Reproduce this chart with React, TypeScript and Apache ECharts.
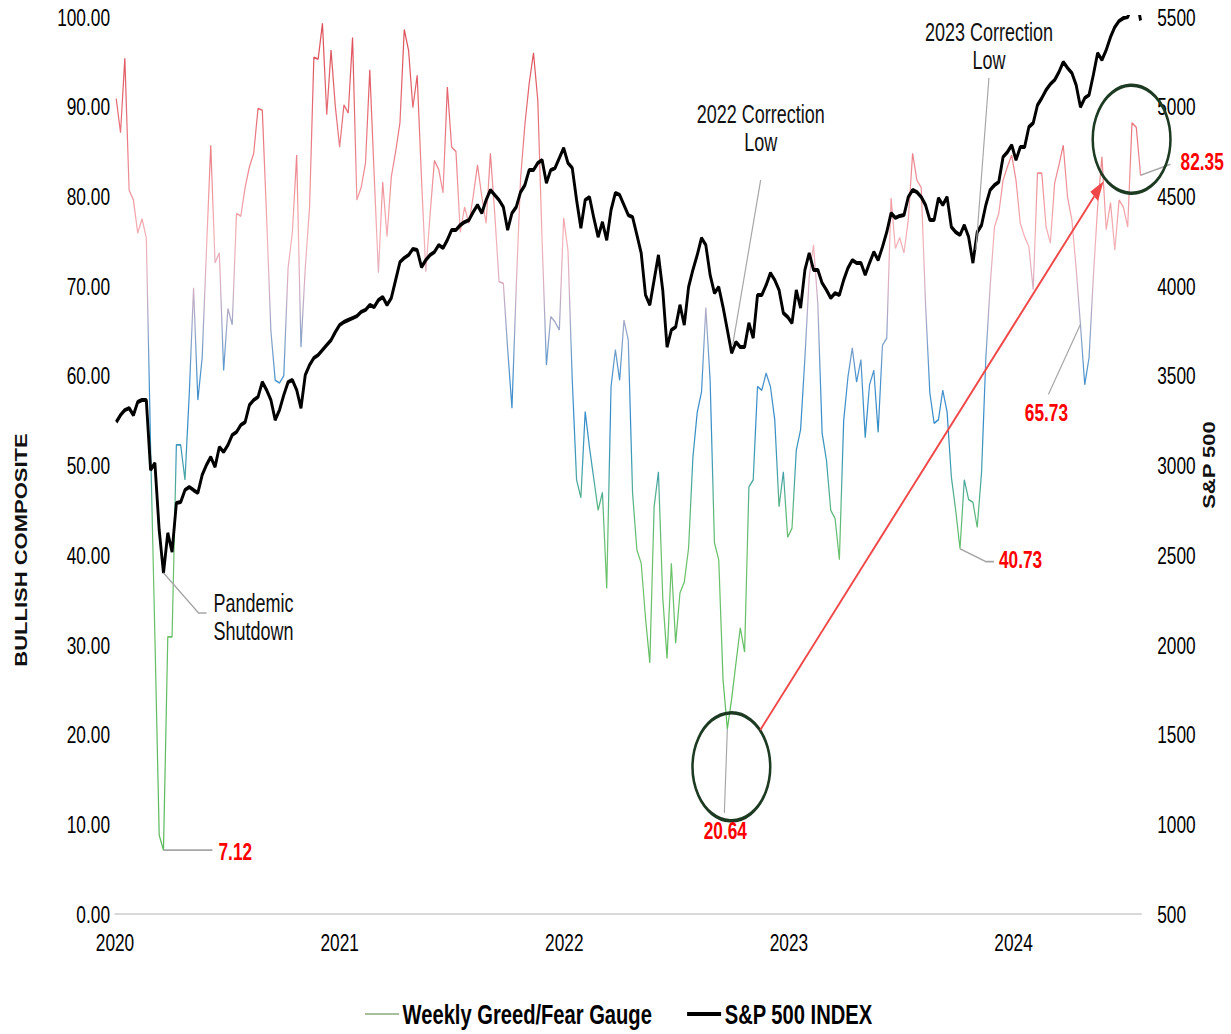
import React, { useEffect, useRef } from "react";
import * as echarts from "echarts";

// ---------- DATA (weekly, first week ending 2020-01-03) ----------
const FIRST_WEEK_UTC = Date.UTC(2020, 0, 3);
const WEEK_MS = 7 * 86400000;

const gauge2020 = [90.9, 87.1, 95.4, 80.7, 79.6, 75.9, 77.5, 75.4, 52, 31, 8.8, 7.12, 30.9, 30.9, 52.3, 52.3, 48.4, 58, 69.8, 57.3, 62, 74, 85.7, 72.6, 73.7, 60.6, 67.5, 65.7, 78.1, 77.8, 81, 83.3, 84.8, 89.8, 89.6, 77.7, 65, 59.5, 59.2, 60, 72, 76, 84.6, 63.2, 72, 78.8, 95.5, 95.3, 99.3, 89.1, 96.3, 90, 85.5];
const gauge2021 = [90.2, 89.3, 97.7, 79.6, 81.0, 83.7, 94.1, 82.6, 71.5, 81.6, 75.5, 82.2, 85, 88.2, 98.6, 96.3, 89.9, 93.5, 82, 71.6, 78, 84, 83, 80.4, 92.2, 85.5, 85.0, 76, 78.8, 77.0, 80, 83.5, 80, 77.0, 84.8, 78.1, 70.5, 70.3, 63, 56.4, 70, 82, 88, 92.6, 96.0, 90.7, 75, 61.2, 66.6, 66, 65.1, 77.6];
const gauge2022 = [74.0, 59.5, 48.4, 46.4, 56.0, 52, 48.5, 45.0, 47.0, 36.3, 58.8, 62.9, 59.5, 66.2, 64.0, 46.9, 40.6, 39.1, 33, 28.0, 45.4, 49.3, 35.3, 28.5, 39.1, 30.2, 35.8, 37.0, 40.8, 50.9, 55.9, 58.2, 67.6, 59.5, 41.4, 39.5, 26.1, 20.64, 24, 28, 31.9, 29.2, 47.6, 48.4, 58.8, 58.4, 60.3, 58.8, 55.1, 45.4, 49.3, 42.0];
const gauge2023 = [43.0, 51.7, 54.0, 62, 71, 74.6, 68, 53.6, 50.6, 45.0, 44.1, 39.5, 55, 59.9, 63.1, 59.3, 61.8, 53.1, 59.0, 60.6, 53.7, 63.4, 64.2, 79.8, 74.2, 75.4, 73.7, 77.4, 84.8, 81.8, 81.0, 68, 58.1, 54.7, 55.1, 58.4, 56.0, 48.7, 45, 40.73, 48.4, 46.2, 45.9, 43.1, 49.2, 62, 70, 76.6, 78.1, 81.8, 83.3, 84.6];
const gauge2024 = [81.8, 77.0, 75.5, 74.4, 69.6, 82.6, 82.6, 76.6, 74.8, 81.5, 83.5, 85.7, 79.9, 77.4, 72, 65.73, 59.0, 62, 71, 78.8, 84.4, 76.3, 79.3, 74.0, 79.6, 78.8, 76.6, 88.2, 87.7, 82.35];

const spx2020 = [3242, 3281, 3309, 3320, 3281, 3354, 3365, 3365, 2975, 3014, 2640, 2401, 2624, 2518, 2791, 2796, 2863, 2880, 2863, 2847, 2947, 3003, 3047, 2992, 3103, 3075, 3114, 3170, 3187, 3226, 3242, 3337, 3365, 3382, 3465, 3421, 3365, 3254, 3309, 3393, 3465, 3477, 3421, 3320, 3504, 3560, 3599, 3616, 3644, 3672, 3699, 3744, 3783];
const spx2021 = [3800, 3811, 3822, 3833, 3856, 3867, 3895, 3883, 3922, 3939, 3895, 3934, 4034, 4134, 4157, 4173, 4207, 4201, 4106, 4145, 4173, 4190, 4229, 4212, 4257, 4313, 4313, 4340, 4357, 4368, 4413, 4452, 4407, 4480, 4536, 4508, 4480, 4441, 4313, 4407, 4441, 4524, 4563, 4647, 4647, 4686, 4703, 4575, 4647, 4658, 4714, 4770];
const spx2022 = [4686, 4658, 4480, 4324, 4480, 4497, 4380, 4274, 4357, 4257, 4424, 4519, 4508, 4452, 4396, 4385, 4285, 4184, 3950, 3895, 4034, 4173, 3978, 3660, 3755, 3772, 3895, 3783, 3995, 4090, 4173, 4268, 4229, 4062, 3961, 3995, 3883, 3755, 3627, 3688, 3660, 3660, 3794, 3711, 3950, 3950, 4006, 4073, 4034, 3978, 3850, 3828];
const spx2023 = [3794, 3978, 3878, 4090, 4184, 4090, 4090, 4017, 3978, 3934, 3961, 3950, 4034, 4101, 4145, 4129, 4129, 4062, 4129, 4190, 4145, 4218, 4301, 4407, 4380, 4391, 4396, 4497, 4536, 4524, 4497, 4452, 4368, 4368, 4491, 4452, 4497, 4329, 4301, 4285, 4340, 4274, 4129, 4301, 4340, 4452, 4536, 4563, 4580, 4720, 4747, 4786];
const spx2024 = [4703, 4775, 4775, 4887, 4909, 5009, 5048, 5093, 5126, 5149, 5193, 5249, 5216, 5188, 5121, 4998, 5048, 5065, 5177, 5299, 5260, 5316, 5388, 5444, 5478, 5494, 5500, 5565, 5615, 5480];

const yearTicks = [2020, 2021, 2022, 2023, 2024];
const X_MIN = 2020;
const X_MAX_DATE = Date.UTC(2024, 6, 27);

const GAUGE_NAME = "Weekly Greed/Fear Gauge";
const SPX_NAME = "S&P 500 INDEX";

// annotation anchors (week indexes)
const IDX_PANDEMIC = 11;
const IDX_LOW_2020 = 11;
const IDX_LOW_2022G = 142;
const IDX_SPX_2022 = 143;
const IDX_SPX_2023 = 199;
const IDX_LOW_2023G = 196;
const IDX_DIP_2024 = 224;
const IDX_LAST = 238;

// colour stops for 0,5,10,...,100
const GAUGE_COLORS = [
  "#4cb34c", "#4cb34c", "#4cb34c", "#4cb34c", "#4fb54f", "#52b752", "#55b855", "#58ba58", "#5cbb5c",
  "#4aaf70", "#2a93a8", "#1f7fc4", "#3a88c8", "#8a9cc2", "#d2a7bd", "#f3a9b0", "#ef8e96", "#e9727c",
  "#e25a64", "#dc4652", "#d83a44",
];

const FONT = "'Liberation Sans', Arial, Helvetica, sans-serif";

// the original picture is horizontally squeezed; the chart is drawn wide and squeezed by K
const K = 0.72;
const PAGE_W = 1231;
const PAGE_H = 1034;
const CHART_W = Math.round(PAGE_W / K);

function decimalYear(t: number): number {
  const d = new Date(t);
  const y = d.getUTCFullYear();
  const s = Date.UTC(y, 0, 1);
  const e = Date.UTC(y + 1, 0, 1);
  return y + (t - s) / (e - s);
}

const sx = (dx: number) => dx / K; // screen px horizontal -> chart px

export default function App() {
  const ref = useRef<HTMLDivElement>(null);

  useEffect(() => {
    if (!ref.current) return;
    const chart = echarts.init(ref.current, undefined, { renderer: "svg" });

    const gauge = [...gauge2020, ...gauge2021, ...gauge2022, ...gauge2023, ...gauge2024];
    const spx = [...spx2020, ...spx2021, ...spx2022, ...spx2023, ...spx2024];
    const xs = gauge.map((_, i) => decimalYear(FIRST_WEEK_UTC + i * WEEK_MS));
    const xMax = decimalYear(X_MAX_DATE);

    const tickLabel = {
      fontFamily: FONT,
      fontSize: 24,
      fontWeight: "normal" as const,
      color: "#000",
    };

    chart.setOption({
      animation: false,
      backgroundColor: "#ffffff",
      grid: { left: sx(115), right: sx(90), top: 17, bottom: 120, containLabel: false },
      xAxis: {
        type: "value",
        min: X_MIN,
        max: xMax,
        interval: 1,
        axisLine: { show: true, onZero: false, lineStyle: { color: "#d9d9d9", width: 2 } },
        axisTick: { show: false },
        splitLine: { show: false },
        axisLabel: {
          ...tickLabel,
          margin: 16,
          showMaxLabel: false,
          formatter: (v: number) =>
            yearTicks.includes(Math.round(v)) && Math.abs(v - Math.round(v)) < 1e-6 ? String(Math.round(v)) : "",
        },
      },
      yAxis: [
        {
          type: "value",
          min: 0,
          max: 100,
          interval: 10,
          position: "left",
          axisLine: { show: false },
          axisTick: { show: false },
          splitLine: { show: false },
          axisLabel: { ...tickLabel, margin: sx(5), formatter: (v: number) => v.toFixed(2) },
        },
        {
          type: "value",
          min: 500,
          max: 5500,
          interval: 500,
          position: "right",
          axisLine: { show: false },
          axisTick: { show: false },
          splitLine: { show: false },
          axisLabel: { ...tickLabel, margin: sx(16), formatter: (v: number) => String(v) },
        },
      ],
      visualMap: {
        type: "continuous",
        show: false,
        seriesIndex: 0,
        dimension: 1,
        min: 0,
        max: 100,
        inRange: { color: GAUGE_COLORS },
      },
      legend: {
        left: sx(365),
        top: 1000,
        itemGap: sx(35),
        itemWidth: sx(34),
        itemHeight: 14,
        padding: 0,
        textStyle: { fontFamily: FONT, fontSize: 28, fontWeight: "bold", color: "#000" },
        data: [
          { name: GAUGE_NAME, icon: "path://M0 0H46V2H0Z", itemStyle: { color: "#a7bf9f" } },
          { name: SPX_NAME, icon: "path://M0 0H46V4H0Z", itemStyle: { color: "#000000" } },
        ],
      },
      series: [
        {
          name: GAUGE_NAME,
          type: "line",
          xAxisIndex: 0,
          yAxisIndex: 0,
          symbol: "none",
          smooth: false,
          lineStyle: { width: 1.7, opacity: 0.9 },
          data: xs.map((x, i) => [x, gauge[i]]),
          z: 2,
        },
        {
          name: SPX_NAME,
          type: "line",
          xAxisIndex: 0,
          yAxisIndex: 1,
          symbol: "none",
          smooth: false,
          lineStyle: { width: 4, color: "#000000" },
          itemStyle: { color: "#000000" },
          data: xs.map((x, i) => [x, spx[i]]),
          z: 3,
        },
      ],
    });

    const P = (i: number) => chart.convertToPixel({ xAxisIndex: 0, yAxisIndex: 0 }, [xs[i], gauge[i]]) as number[];
    const S = (i: number) => chart.convertToPixel({ xAxisIndex: 0, yAxisIndex: 1 }, [xs[i], spx[i]]) as number[];
    const at = (p: number[], dx: number, dy: number) => [p[0] + sx(dx), p[1] + dy];

    const LEAD = { stroke: "#a6a6a6", lineWidth: 1.6, fill: null };
    const noteText = (text: string, p: number[], align: string, va: string) => ({
      type: "text",
      x: p[0],
      y: p[1],
      z: 20,
      style: {
        text,
        fill: "#111",
        fontFamily: FONT,
        fontSize: 25,
        lineHeight: 28,
        align,
        verticalAlign: va,
      },
    });
    const redText = (text: string, p: number[], align: string) => ({
      type: "text",
      x: p[0],
      y: p[1],
      z: 20,
      style: {
        text,
        fill: "#ff0000",
        fontFamily: FONT,
        fontSize: 24,
        fontWeight: "bold",
        align,
        verticalAlign: "middle",
      },
    });
    const line = (pts: number[][]) => ({ type: "polyline", z: 15, shape: { points: pts }, style: LEAD });

    const sP = S(IDX_PANDEMIC);
    const g712 = P(IDX_LOW_2020);
    const s22 = S(IDX_SPX_2022);
    const s23 = S(IDX_SPX_2023);
    const g2064 = P(IDX_LOW_2022G);
    const g4073 = P(IDX_LOW_2023G);
    const g6573 = P(IDX_DIP_2024);
    const gLast = P(IDX_LAST);

    const R = 54;
    const c1 = at(g2064, 4, 38);
    const c2 = at(gLast, -9, -36);
    const a0 = at(c1, 29, -37);
    const a1 = at(c2, -28, 42);
    const ang = Math.atan2(a1[1] - a0[1], a1[0] - a0[0]);
    const headLen = 20;
    const headW = 7;
    const base = [a1[0] - headLen * Math.cos(ang), a1[1] - headLen * Math.sin(ang)];
    const perp = [-Math.sin(ang), Math.cos(ang)];

    const ARROW = "#f04848";
    const CIRCLE = { stroke: "#1d3a22", lineWidth: 3.5, fill: null };

    const graphic: any[] = [
      // axis titles
      {
        type: "text",
        x: sx(22),
        y: 550,
        rotation: Math.PI / 2,
        style: { text: "BULLISH COMPOSITE", fill: "#111", fontFamily: FONT, fontWeight: "bold", fontSize: 22, align: "center", verticalAlign: "middle" },
      },
      {
        type: "text",
        x: sx(1210),
        y: 465,
        rotation: Math.PI / 2,
        style: { text: "S&P 500", fill: "#111", fontFamily: FONT, fontWeight: "bold", fontSize: 22, align: "center", verticalAlign: "middle" },
      },
      // pandemic
      line([sP, at(sP, 35, 40), at(sP, 43, 40)]),
      noteText("Pandemic\nShutdown", at(sP, 50, 16), "left", "top"),
      line([g712, at(g712, 49, 0)]),
      redText("7.12", at(g712, 55, 1), "left"),
      // 2022 correction
      line([at(s22, 1, -8), at(s22, 29, -173)]),
      noteText("2022 Correction\nLow", at(s22, 29, -253), "center", "top"),
      // 2023 correction
      line([at(s23, 3, -13), at(s23, 16, -185)]),
      noteText("2023 Correction\nLow", at(s23, 16, -245), "center", "top"),
      // 20.64
      line([g2064, at(g2064, -3, 84)]),
      redText("20.64", at(g2064, -2, 102), "center"),
      { type: "circle", z: 16, shape: { cx: c1[0], cy: c1[1], r: R }, style: CIRCLE },
      // 40.73
      line([g4073, at(g4073, 26, 13), at(g4073, 34, 13)]),
      redText("40.73", at(g4073, 39, 11), "left"),
      // 65.73
      line([g6573, at(g6573, -32, 70)]),
      redText("65.73", at(g6573, -34, 88), "center"),
      // 82.35
      line([gLast, at(gLast, 30, -11)]),
      redText("82.35", at(gLast, 40, -14), "left"),
      { type: "circle", z: 16, shape: { cx: c2[0], cy: c2[1], r: R }, style: CIRCLE },
      // arrow
      { type: "line", z: 17, shape: { x1: a0[0], y1: a0[1], x2: base[0], y2: base[1] }, style: { stroke: ARROW, lineWidth: 2.4 } },
      {
        type: "polygon",
        z: 17,
        shape: {
          points: [
            [a1[0], a1[1]],
            [base[0] + perp[0] * headW, base[1] + perp[1] * headW],
            [base[0] - perp[0] * headW, base[1] - perp[1] * headW],
          ],
        },
        style: { fill: ARROW },
      },
    ];

    chart.setOption({ graphic });

    return () => chart.dispose();
  }, []);

  return (
    <div style={{ position: "fixed", left: 0, top: 0, width: PAGE_W, height: PAGE_H, overflow: "hidden", background: "#fff" }}>
      <div
        ref={ref}
        style={{
          position: "absolute",
          left: 0,
          top: 0,
          width: CHART_W,
          height: PAGE_H,
          transform: `scaleX(${K})`,
          transformOrigin: "0 0",
        }}
      />
    </div>
  );
}
